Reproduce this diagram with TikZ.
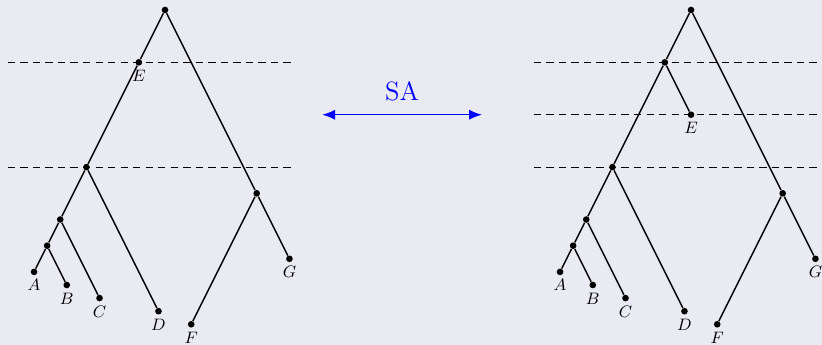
\documentclass[tikz,border=0pt]{standalone}
\usepackage{xcolor}
\usepackage{tikz}
\usetikzlibrary{positioning, arrows.meta}
\definecolor{bgcol}{HTML}{EAEAF2}
\tikzset{
  >=latex, % default arrow head
  dot/.style={circle,fill=black,inner sep=0pt,minimum size=3.6pt},
  leaf/.style={dot,label={[font=\small,inner sep=2pt]below:#1}},
  branch/.style={thick},
  level/.style={dash pattern=on 4pt off 2.8pt,semithick},
  move/.style={{Latex[length=7,width=5.5]}-{Latex[length=7,width=5.5]},thick,blue}
}

\begin{document}
\begin{tikzpicture}[x=0.5cm,y=0.5cm]

  % Background
  \fill[bgcol] (-6.3,0.38) rectangle (25.08,-12.79);
  \useasboundingbox (-6.3,0.38) rectangle (25.08,-12.79);

  % Left tree: time levels
  \coordinate (l1a) at (-6,-2);   \coordinate (l1b) at (4.8,-2);
  \coordinate (l2a) at (-6,-6);   \coordinate (l2b) at (4.8,-6);
  \draw[level] (l1a) -- (l1b);
  \draw[level] (l2a) -- (l2b);

  % Left tree: nodes
  \node[dot] (lr) at (0,0) {};
  \node[leaf={$E$}] (le) at (-1,-2) {};
  \node[dot] (lh) at (-3,-6) {};
  \node[dot] (labc) at (-4,-8) {};
  \node[dot] (lab) at (-4.5,-9) {};
  \node[leaf={$A$}] (la) at (-5,-10) {};
  \node[leaf={$B$}] (lb) at (-3.75,-10.5) {};
  \node[leaf={$C$}] (lc) at (-2.5,-11) {};
  \node[leaf={$D$}] (ld) at (-0.25,-11.5) {};
  \node[dot] (lfg) at (3.5,-7) {};
  \node[leaf={$F$}] (lf) at (1,-12) {};
  \node[leaf={$G$}] (lg) at (4.75,-9.5) {};

  % Left tree: branches
  \draw[branch] (lr) -- (le) -- (lh) -- (labc) -- (lab) -- (la);
  \draw[branch] (lab) -- (lb);
  \draw[branch] (labc) -- (lc);
  \draw[branch] (lh) -- (ld);
  \draw[branch] (lr) -- (lfg) -- (lg);
  \draw[branch] (lfg) -- (lf);

  % Move
  \coordinate (ma) at (6,-4);
  \coordinate (mb) at (12.1,-4);
  \draw[move] (ma) -- (mb);
  \node[blue,font=\Large] (sa) at (9.05,-3.1) {SA};

  \begin{scope}[shift={(20.08,0)}]
    % Right tree: time levels
    \coordinate (r1a) at (-6,-2);   \coordinate (r1b) at (4.8,-2);
    \coordinate (r2a) at (-6,-4);   \coordinate (r2b) at (4.8,-4);
    \coordinate (r3a) at (-6,-6);   \coordinate (r3b) at (4.8,-6);
    \draw[level] (r1a) -- (r1b);
    \draw[level] (r2a) -- (r2b);
    \draw[level] (r3a) -- (r3b);

    % Right tree: nodes
    \node[dot] (rr) at (0,0) {};
    \node[dot] (rn) at (-1,-2) {};
    \node[leaf={$E$}] (re) at (0,-4) {};
    \node[dot] (rh) at (-3,-6) {};
    \node[dot] (rabc) at (-4,-8) {};
    \node[dot] (rab) at (-4.5,-9) {};
    \node[leaf={$A$}] (ra) at (-5,-10) {};
    \node[leaf={$B$}] (rb) at (-3.75,-10.5) {};
    \node[leaf={$C$}] (rc) at (-2.5,-11) {};
    \node[leaf={$D$}] (rd) at (-0.25,-11.5) {};
    \node[dot] (rfg) at (3.5,-7) {};
    \node[leaf={$F$}] (rf) at (1,-12) {};
    \node[leaf={$G$}] (rg) at (4.75,-9.5) {};

    % Right tree: branches
    \draw[branch] (rr) -- (rn) -- (rh) -- (rabc) -- (rab) -- (ra);
    \draw[branch] (rn) -- (re);
    \draw[branch] (rab) -- (rb);
    \draw[branch] (rabc) -- (rc);
    \draw[branch] (rh) -- (rd);
    \draw[branch] (rr) -- (rfg) -- (rg);
    \draw[branch] (rfg) -- (rf);
  \end{scope}

\end{tikzpicture}
\end{document}
